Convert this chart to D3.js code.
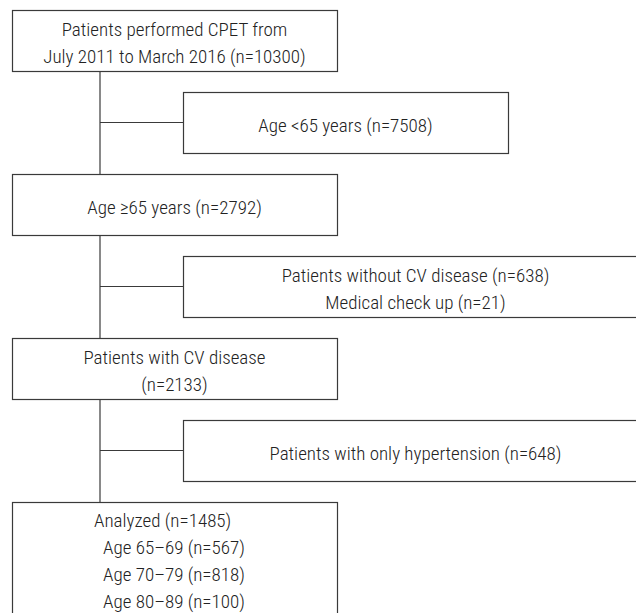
<!DOCTYPE html>
<html>
<head>
<meta charset="utf-8">
<script src="https://cdn.jsdelivr.net/npm/d3@7"></script>
<style>
  html, body { margin: 0; padding: 0; background: #fff; }
  svg text { font-family: "Liberation Sans Narrow", "Roboto Condensed", "DejaVu Sans Condensed", sans-serif; font-size: 19px; font-weight: 300; fill: #222; }
</style>
</head>
<body>
<svg id="chart" width="636" height="613"></svg>
<script>
// Flow counts
const mainLabels = [
    ["Patients performed CPET from", "July 2011 to March 2016 (n=10300)"],
    ["Age \u226565 years (n=2792)"],
    ["Patients with CV disease", "(n=2133)"]
];
const exclusionLabels = [
    ["Age <65 years (n=7508)"],
    ["Patients without CV disease (n=638)", "Medical check up (n=21)"],
    ["Patients with only hypertension (n=648)"]
];
const analyzedCount = 1485;
const ageGroups = ["65\u201369", "70\u201379", "80\u201389"];
const ageCounts = [567, 818, 100];

const svg = d3.select("#chart");
const boxH = 61;
const lineGap = 27;

// row index -> top of box
const y = d3.scaleLinear().domain([0, 6]).range([10, 502]);
const spineX = 100;
const left = { x0: 12, x1: 337 };
const right = { x0: 183, x1: 648 };
const rightShort = { x0: 183, x1: 508 };

// build rows: main, exclusion, main, exclusion, ...
const rows = [];
mainLabels.forEach((lines, i) => {
    rows.push({ row: i * 2, lines: lines, col: left });
    rows.push({ row: i * 2 + 1, lines: exclusionLabels[i], col: i === 0 ? rightShort : right });
});

const lines = svg.append("g").attr("stroke", "#3a3a3a").attr("stroke-width", 1.2).attr("fill", "none");

// vertical spine segments between main boxes
[0, 2, 4].forEach(r => {
    lines.append("line")
        .attr("x1", spineX).attr("x2", spineX)
        .attr("y1", y(r) + boxH).attr("y2", y(r + 2));
});
// horizontal links to exclusion boxes
[1, 3, 5].forEach(r => {
    lines.append("line")
        .attr("x1", spineX).attr("x2", right.x0)
        .attr("y1", y(r) + boxH / 2).attr("y2", y(r) + boxH / 2);
});

const boxes = svg.selectAll("g.box").data(rows).join("g").attr("class", "box");

boxes.append("rect")
    .attr("x", d => d.col.x0 + 0.5)
    .attr("y", d => y(d.row) + 0.5)
    .attr("width", d => d.col.x1 - d.col.x0)
    .attr("height", boxH)
    .attr("fill", "none")
    .attr("stroke", "#3a3a3a")
    .attr("stroke-width", 1.2);

boxes.each(function(d) {
    const g = d3.select(this);
    const cx = (d.col.x0 + d.col.x1) / 2;
    const cy = y(d.row) + boxH / 2;
    d.lines.forEach((t, i) => {
        g.append("text")
            .attr("x", cx)
            .attr("y", cy + 9 + (i - (d.lines.length - 1) / 2) * lineGap)
            .attr("text-anchor", "middle")
            .text(t);
    });
});

// final analyzed box, runs off the bottom
const finalTop = y(6);
svg.append("rect")
    .attr("x", left.x0 + 0.5).attr("y", finalTop + 0.5)
    .attr("width", left.x1 - left.x0).attr("height", 200)
    .attr("fill", "none").attr("stroke", "#3a3a3a").attr("stroke-width", 1.2);

const finalLines = [`Analyzed (n=${analyzedCount})`]
    .concat(ageGroups.map((a, i) => `Age ${a} (n=${ageCounts[i]})`));
finalLines.forEach((t, i) => {
    svg.append("text")
        .attr("x", i === 0 ? 94 : 103)
        .attr("y", finalTop + 25 + i * 27)
        .text(t);
});
</script>
</body>
</html>
